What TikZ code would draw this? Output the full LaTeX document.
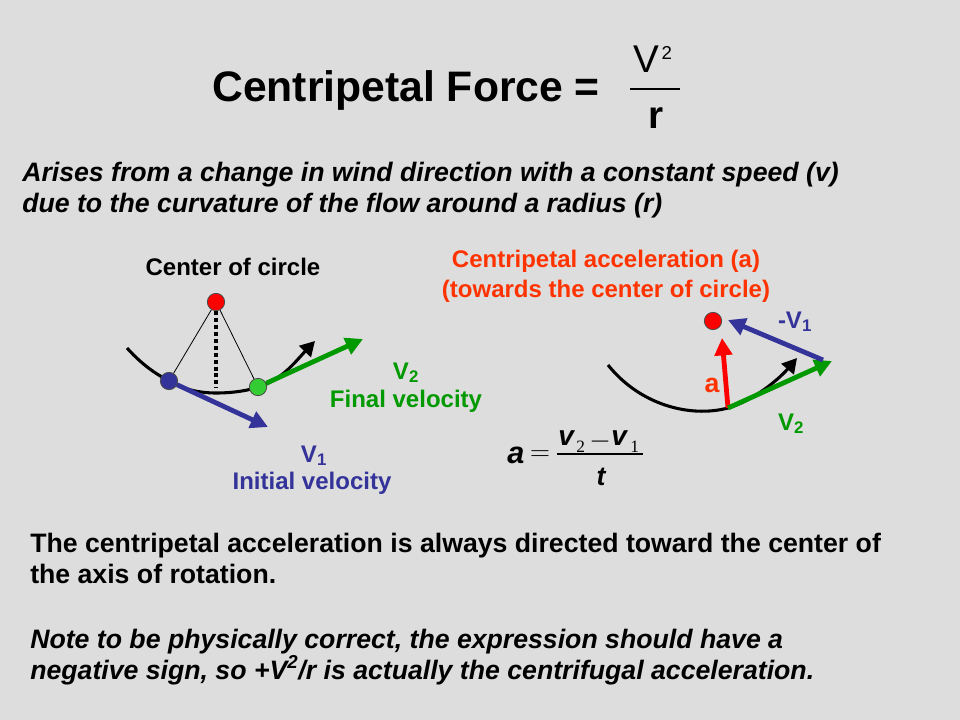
\documentclass[tikz,border=0pt]{standalone}
\usepackage{fontspec}
\setmainfont{Liberation Sans}
\newfontfamily\serifm{Liberation Serif}
\usetikzlibrary{arrows.meta}
\definecolor{bg}{RGB}{221,221,221}
\definecolor{vblue}{RGB}{51,51,153}
\definecolor{vgreen}{RGB}{0,153,0}
\definecolor{dotgreen}{RGB}{51,204,51}
\definecolor{ored}{RGB}{255,51,0}
\begin{document}
\begin{tikzpicture}[x=0.75pt,y=-0.75pt,
  body/.style={inner sep=0pt, anchor=base west, font=\fontsize{20}{24}\selectfont\bfseries},
  bodyit/.style={body, font=\fontsize{20}{24}\selectfont\bfseries\itshape},
  lbl/.style={inner sep=0pt, anchor=base, font=\fontsize{18}{22}\selectfont\bfseries},
  dot/.style={circle, draw=black!70, line width=0.6pt, minimum size=13pt, inner sep=0pt},
  vec/.style={line width=3.6pt, -{Triangle[length=13pt,width=13pt]}},
  curve/.style={line width=2.3pt, -{Triangle[length=11pt,width=12pt]}},
  thinl/.style={line width=0.6pt},
  mathv/.style={inner sep=0pt, anchor=base west, font=\fontsize{21}{25}\selectfont\bfseries\itshape},
  mathsub/.style={inner sep=0pt, anchor=base west, font=\fontsize{13}{15}\selectfont\serifm}
]
\fill[bg] (0,0) rectangle (960,720);
\useasboundingbox (0,0) rectangle (960,720);

% Title
\node[inner sep=0pt, anchor=base west, font=\fontsize{32}{38}\selectfont\bfseries] (title) at (212,102) {Centripetal Force =};
\node[inner sep=0pt, anchor=base, font=\fontsize{29}{34}\selectfont] (Vsq) at (653,73) {V\hspace{1.5pt}\raisebox{0.36em}{\fontsize{14}{17}\selectfont 2}};
\coordinate (fbl) at (630,89);
\coordinate (fbr) at (680,89);
\draw[line width=1.2pt] (fbl) -- (fbr);
\node[inner sep=0pt, anchor=base, font=\fontsize{29}{34}\selectfont\bfseries] (rr) at (656,129) {r};

% Body text
\node[bodyit] (b1) at (22,182) {Arises from a change in wind direction with a constant speed (v)};
\node[bodyit] (b2) at (22,213) {due to the curvature of the flow around a radius (r)};

% Left diagram
\node[lbl] (centre) at (233,276) {Center of circle};
\coordinate (L0) at (127,348);
\coordinate (Lb) at (169,381);
\coordinate (Lm) at (216,393);
\coordinate (Lg) at (258,387);
\coordinate (Le) at (315,341);
\draw[curve] (L0) .. controls (145,368) and (160,376) .. (Lb)
  .. controls (185,390) and (200,393) .. (Lm)
  .. controls (235,393) and (250,390) .. (Lg)
  .. controls (282,380) and (295,362) .. (Le);
\node[dot, fill=red] (cL) at (216,302) {};
\coordinate (dotend) at (216,388);
\draw[line width=3pt, dash pattern=on 3pt off 2.2pt] (cL.south) -- (dotend);
\node[dot, fill=vblue] (bL) at (Lb) {};
\node[dot, fill=dotgreen] (gL) at (Lg) {};
\draw[thinl] (cL) -- (bL);
\draw[thinl] (cL) -- (gL);
\coordinate (gtip) at (363,339);
\coordinate (btip) at (268,427);
\draw[vec, vgreen] (gL) -- (gtip);
\draw[vec, vblue] (bL) -- (btip);
\node[lbl, text=vgreen] (v2L) at (406,379) {V\textsubscript{2}};
\node[lbl, text=vgreen] (finalv) at (406,407) {Final velocity};
\node[lbl, text=vblue] (v1L) at (314,462) {V\textsubscript{1}};
\node[lbl, text=vblue] (initv) at (312,489) {Initial velocity};

% Right diagram
\node[lbl, text=ored] (cat1) at (606,268) {Centripetal acceleration (a)};
\node[lbl, text=ored] (cat2) at (606,297) {(towards the center of circle)};
\coordinate (R0) at (608,365);
\coordinate (P) at (728,408);
\coordinate (Re) at (797,358);
\draw[curve] (R0) .. controls (640,405) and (690,418) .. (P)
  .. controls (755,400) and (780,378) .. (Re);
\node[dot, fill=red] (cR) at (713,321) {};
\coordinate (atip) at (722,338);
\coordinate (g2tip) at (832,361);
\coordinate (b2s) at (823,360);
\coordinate (b2tip) at (728,320);
\draw[vec, red] (P) -- (atip);
\draw[vec, vgreen] (P) -- (g2tip);
\draw[vec, vblue] (b2s) -- (b2tip);
\node[lbl, text=vblue] (mv1) at (795,328) {-V\textsubscript{1}};
\node[lbl, text=ored, font=\fontsize{20}{24}\selectfont\bfseries] (aR) at (712,392) {a};
\node[lbl, text=vgreen] (v2R) at (791,430) {V\textsubscript{2}};

% Formula
\node[inner sep=0pt, anchor=base, font=\fontsize{23}{27}\selectfont\bfseries\itshape] (fa) at (516,463) {a};
\node[inner sep=0pt, font=\fontsize{22}{26}\selectfont] (feq) at (540,456) {$=$};
\node[mathv] (fv1) at (558,445) {v};
\node[mathsub] (fs2) at (576,452) {2};
\node[inner sep=0pt, font=\fontsize{20}{24}\selectfont] (fmin) at (600,442) {$-$};
\node[mathv] (fv2) at (611,445) {v};
\node[mathsub] (fs1) at (630,452) {1};
\coordinate (fbarl) at (557,454);
\coordinate (fbarr) at (643,454);
\draw[line width=0.9pt] (fbarl) -- (fbarr);
\node[inner sep=0pt, anchor=base, font=\fontsize{20}{24}\selectfont\bfseries\itshape] (ft) at (601,485) {t};

% Bottom text
\node[body] (c1) at (30,552) {The centripetal acceleration is always directed toward the center of};
\node[body] (c2) at (30,583) {the axis of rotation.};
\node[bodyit] (c3) at (30,648) {Note to be physically correct, the expression should have a};
\node[bodyit] (c4) at (30,679) {negative sign, so +V\textsuperscript{2}/r is actually the centrifugal acceleration.};
\end{tikzpicture}
\end{document}
